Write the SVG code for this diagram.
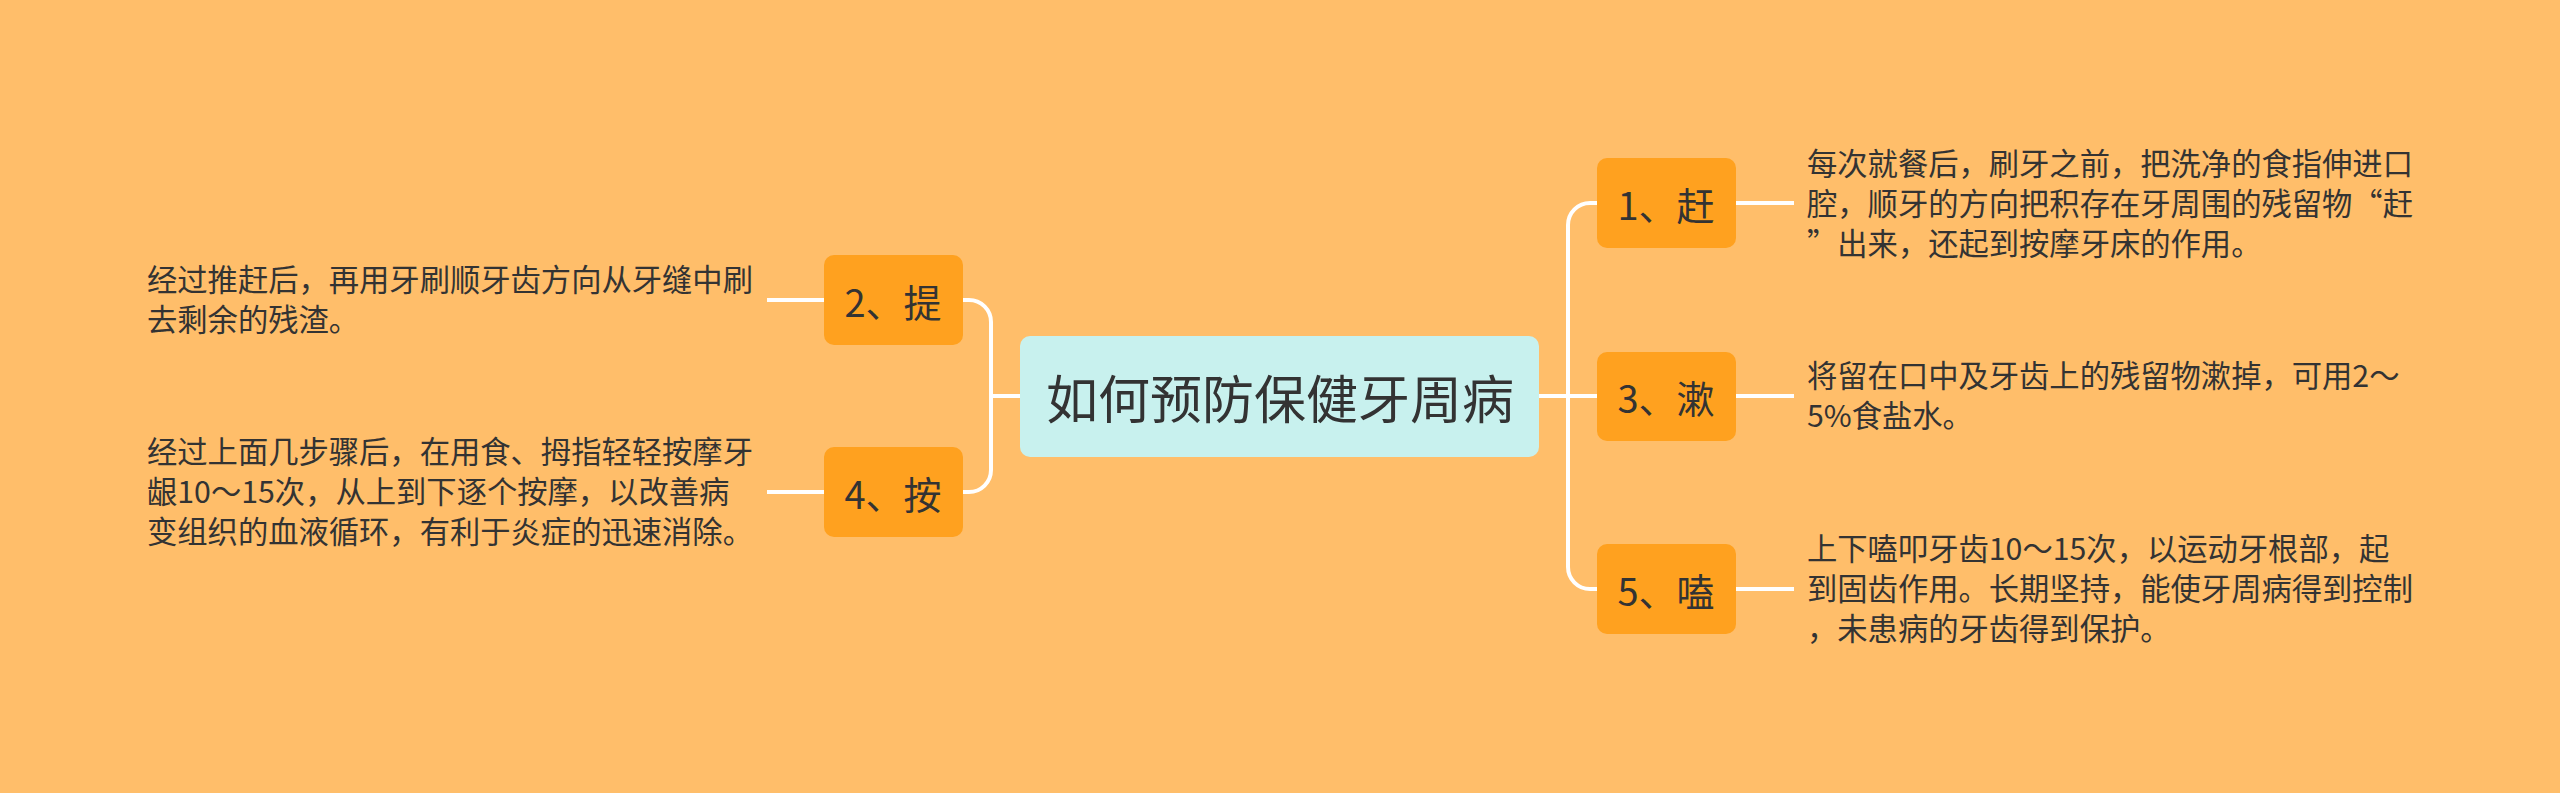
<svg xmlns="http://www.w3.org/2000/svg" width="2560" height="793" viewBox="0 0 2560 793">
<style>
.bg{fill:#FFBE6A}
.conn path{fill:none;stroke:#FFFFFF;stroke-width:4;stroke-linecap:butt}
.node rect{fill:#FFA11F}
.root rect{fill:#C8F1EE}
.lbl{font-family:"Noto Sans CJK SC",sans-serif;font-size:38px;fill:#333333;text-anchor:middle;dominant-baseline:central}
.title{font-family:"Noto Sans CJK SC",sans-serif;font-size:52px;fill:#333333;text-anchor:middle;dominant-baseline:central}
.desc{font-family:"Noto Sans CJK SC",sans-serif;font-size:30.3px;fill:#333333}
</style>
<rect class="bg" x="0" y="0" width="2560" height="793"/>
<g id="connectors" class="conn">
<path d="M1539,396 H1597"/>
<path d="M1597,203 H1590 A22,22 0 0 0 1568,225 V567 A22,22 0 0 0 1590,589 H1597"/>
<path d="M1020,396 H991"/>
<path d="M963,300 H969 A22,22 0 0 1 991,322 V470 A22,22 0 0 1 969,492 H963"/>
<path d="M1736,203 H1794"/>
<path d="M1736,396 H1794"/>
<path d="M1736,589 H1794"/>
<path d="M767,300 H824"/>
<path d="M767,492 H824"/>
</g>
<g id="root" class="root">
<rect x="1020" y="336" width="519" height="121" rx="10"/>
<text class="title" x="1280" y="396">如何预防保健牙周病</text>
</g>
<g id="n1" class="node">
<rect x="1597" y="158" width="139" height="90" rx="10"/>
<text class="lbl" x="1666" y="203">1、赶</text>
</g>
<g id="n3" class="node">
<rect x="1597" y="352" width="139" height="89" rx="10"/>
<text class="lbl" x="1666" y="396">3、漱</text>
</g>
<g id="n5" class="node">
<rect x="1597" y="544" width="139" height="90" rx="10"/>
<text class="lbl" x="1666" y="589">5、嗑</text>
</g>
<g id="n2" class="node">
<rect x="824" y="255" width="139" height="90" rx="10"/>
<text class="lbl" x="893" y="300">2、提</text>
</g>
<g id="n4" class="node">
<rect x="824" y="447" width="139" height="90" rx="10"/>
<text class="lbl" x="893" y="492">4、按</text>
</g>
<g id="d1">
<text class="desc" x="1807" y="175">每次就餐后，刷牙之前，把洗净的食指伸进口</text>
<text class="desc" x="1807" y="215">腔，顺牙的方向把积存在牙周围的残留物“赶</text>
<text class="desc" x="1807" y="255">”出来，还起到按摩牙床的作用。</text>
</g>
<g id="d3">
<text class="desc" x="1807" y="387">将留在口中及牙齿上的残留物漱掉，可用2～</text>
<text class="desc" x="1807" y="427">5%食盐水。</text>
</g>
<g id="d5">
<text class="desc" x="1807" y="560">上下嗑叩牙齿10～15次，以运动牙根部，起</text>
<text class="desc" x="1807" y="600">到固齿作用。长期坚持，能使牙周病得到控制</text>
<text class="desc" x="1807" y="640">，未患病的牙齿得到保护。</text>
</g>
<g id="d2">
<text class="desc" x="147" y="291">经过推赶后，再用牙刷顺牙齿方向从牙缝中刷</text>
<text class="desc" x="147" y="331">去剩余的残渣。</text>
</g>
<g id="d4">
<text class="desc" x="147" y="463">经过上面几步骤后，在用食、拇指轻轻按摩牙</text>
<text class="desc" x="147" y="503">龈10～15次，从上到下逐个按摩，以改善病</text>
<text class="desc" x="147" y="543">变组织的血液循环，有利于炎症的迅速消除。</text>
</g>
</svg>
